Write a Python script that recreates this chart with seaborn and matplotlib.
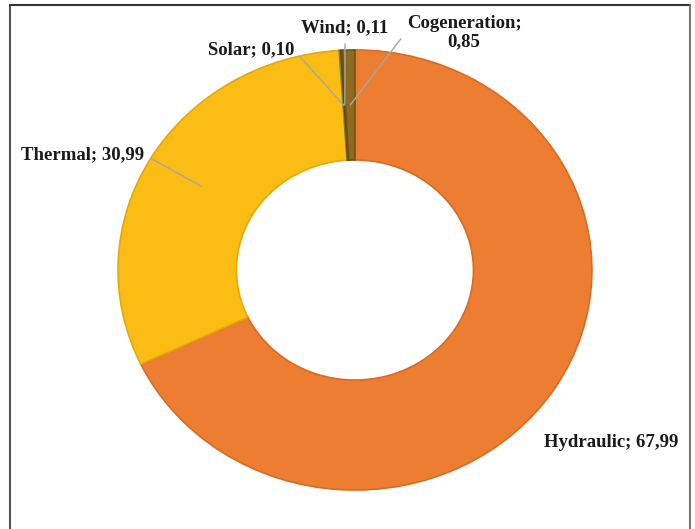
import numpy as np
import matplotlib
matplotlib.use("Agg")
import matplotlib.pyplot as plt
import seaborn as sns

# data
sources = ["Hydraulic", "Thermal", "Solar", "Wind", "Cogeneration"]
shares = [67.99, 30.99, 0.10, 0.11, 0.85]
share_labels = ["67,99", "30,99", "0,10", "0,11", "0,85"]
colors = ["#EC7D31", "#FBBC14", "#8DB03C", "#9A4F1E", "#8C6B1F"]
edges = ["#D86C25", "#E5A90C", "#6E8E2A", "#7A3B12", "#6F5415"]

sns.set_theme(style="white")
plt.rcParams["font.family"] = ["Liberation Serif", "DejaVu Serif"]

fig = plt.figure(figsize=(6.95, 5.29), dpi=100)
ax = fig.add_axes([0, 0, 1, 1])

wedges, _ = ax.pie(shares, colors=colors, startangle=90, counterclock=False,
                   radius=1.0, wedgeprops=dict(width=0.5, linewidth=1.2))
for w, ec in zip(wedges, edges):
    w.set_edgecolor(ec)

ax.set_aspect("auto")
ax.set_xlim(-1.498, 1.435)
ax.set_ylim(-1.177, 1.227)
ax.axis("off")

# label positions (text centers) in data units, and where the leader leaves the text
label_pos = {
    "Hydraulic": (1.08, -0.786),
    "Thermal": (-1.148, 0.523),
    "Solar": (-0.44, 1.0),
    "Wind": (-0.042, 1.10),
    "Cogeneration": (0.46, 1.077),
}
rel = {
    "Thermal": (1.0, 0.5),
    "Solar": (1.0, 0.5),
    "Wind": (0.5, 0.0),
    "Cogeneration": (0.0, 0.55),
}

for w, name, lab in zip(wedges, sources, share_labels):
    ang = np.deg2rad((w.theta1 + w.theta2) / 2)
    tip = (0.75 * np.cos(ang), 0.75 * np.sin(ang))
    txt = f"{name}; {lab}" if name != "Cogeneration" else f"{name};\n{lab}"
    if name == "Hydraulic":
        ax.text(*label_pos[name], txt, ha="center", va="center",
                fontsize=13.5, fontweight="bold", color="#1a1a1a")
    else:
        ax.annotate(txt, xy=tip, xytext=label_pos[name], ha="center", va="center",
                    fontsize=13.5, fontweight="bold", color="#1a1a1a",
                    linespacing=1.1,
                    arrowprops=dict(arrowstyle="-", color="#A6A6A6", lw=1.0,
                                    relpos=rel[name], shrinkA=3, shrinkB=0))

# frame around the picture
fig.add_artist(plt.Line2D([0.0145, 0.0145], [0, 0.99], color="#555555", lw=1.5,
                          transform=fig.transFigure))
fig.add_artist(plt.Line2D([0.0145, 0.993], [0.99, 0.99], color="#333333", lw=1.5,
                          transform=fig.transFigure))
fig.add_artist(plt.Line2D([0.993, 0.993], [0, 0.99], color="#777777", lw=1.5,
                          transform=fig.transFigure))

fig.savefig("out.png", dpi=100, facecolor="white")
